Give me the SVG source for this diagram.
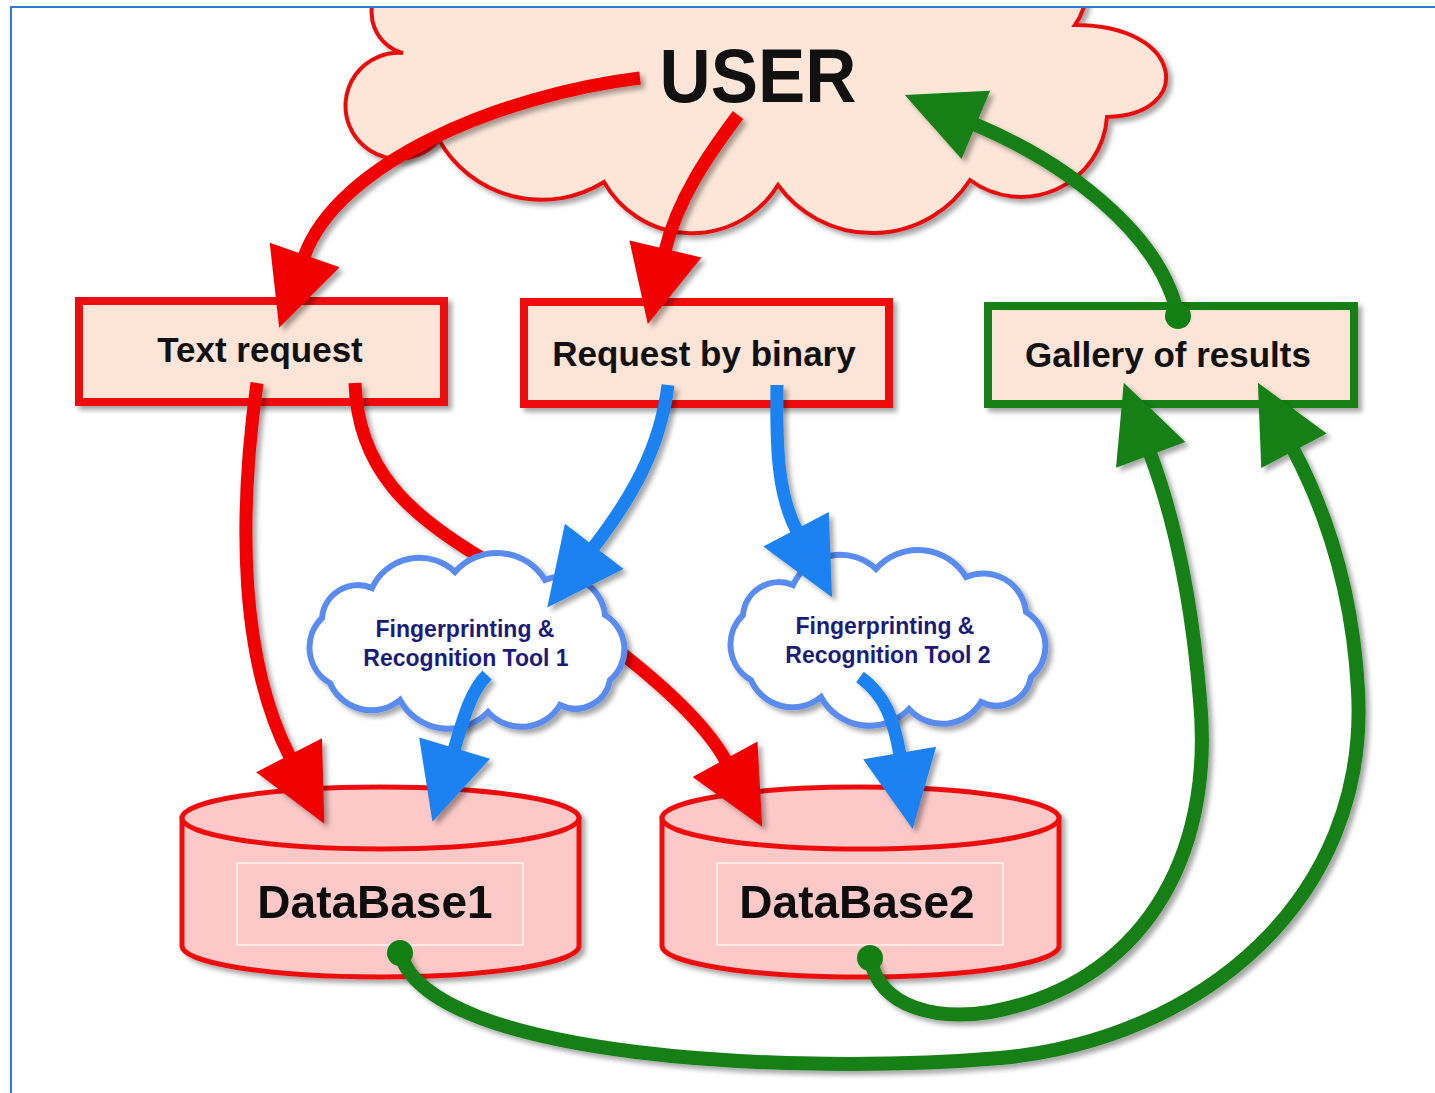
<svg xmlns="http://www.w3.org/2000/svg" width="1435" height="1093" viewBox="0 0 1435 1093">
<defs>
<filter id="sh" filterUnits="userSpaceOnUse" x="-50" y="-50" width="1535" height="1193">
<feDropShadow dx="4" dy="4" stdDeviation="2.5" flood-color="#000" flood-opacity="0.35"/>
</filter>
<marker id="mr" markerUnits="userSpaceOnUse" orient="auto" viewBox="-2 -50 100 100" refX="0" refY="0" markerWidth="100" markerHeight="100" overflow="visible"><path d="M-2,-37 L75,0 L-2,37 Z" fill="#f00000"/></marker>
<marker id="mb" markerUnits="userSpaceOnUse" orient="auto" viewBox="-2 -50 100 100" refX="0" refY="0" markerWidth="100" markerHeight="100" overflow="visible"><path d="M-2,-37 L75,0 L-2,37 Z" fill="#1a82f2"/></marker>
<marker id="mg" markerUnits="userSpaceOnUse" orient="auto" viewBox="-2 -50 100 100" refX="0" refY="0" markerWidth="100" markerHeight="100" overflow="visible"><path d="M-2,-37 L75,0 L-2,37 Z" fill="#128012"/></marker>
<path id="toolcloud" d="M322,618 A36,36 0 0 1 372,588 A52,52 0 0 1 455,572 A56,56 0 0 1 545,580 A43,43 0 0 1 605,615 A40,40 0 0 1 610,680 A35,35 0 0 1 560,705 A45,45 0 0 1 488,712 A55,55 0 0 1 400,700 A45,45 0 0 1 330,683 A41,41 0 0 1 322,618 Z"/>
</defs>
<style>
.box{stroke-width:8;fill:#fce4d6;filter:url(#sh)}
.lbl{font-family:"Liberation Sans",Arial,sans-serif;font-weight:bold;fill:#111;text-anchor:middle}
.tl{font-family:"Liberation Sans",Arial,sans-serif;font-weight:bold;fill:#1b1b78;text-anchor:middle;font-size:23px}
.db{fill:#fdc8c8;stroke:#ee1111;stroke-width:5}
.cr{fill:none;stroke:#f00000;stroke-width:13;marker-end:url(#mr);filter:url(#sh)}
.cb{fill:none;stroke:#1a82f2;stroke-width:13;marker-end:url(#mb);filter:url(#sh)}
.cg{fill:none;stroke:#128012;stroke-width:14;marker-end:url(#mg);filter:url(#sh)}
.dot{fill:#128012}
</style>
<rect width="1435" height="1093" fill="#fff"/>

<g id="user">
<path d="M378,-10 A42,42 0 0 0 403,53 A53,53 0 1 0 439,140 A118,118 0 0 0 604,182 A101,101 0 0 0 778,185 A116.5,116.5 0 0 0 970,180 A86,86 0 0 0 1107,117 C1195,115 1185,25 1075,25 A60,60 0 0 0 1086,-10 Z" fill="#fde6d8" stroke="#e81010" stroke-width="4" filter="url(#sh)"/>
<text class="lbl" x="758" y="102" font-size="76" textLength="197" lengthAdjust="spacingAndGlyphs">USER</text>
</g>

<g id="text-request">
<rect class="box" x="79" y="301" width="365" height="101" stroke="#ee1111"/>
<text class="lbl" x="260" y="362" font-size="35">Text request</text>
</g>

<g id="request-binary">
<rect class="box" x="524" y="302" width="365" height="102" stroke="#ee1111"/>
<text class="lbl" x="704" y="366" font-size="35">Request by binary</text>
</g>

<g id="gallery">
<rect class="box" x="988" y="306" width="366" height="98" stroke="#128012"/>
<text class="lbl" x="1168" y="367" font-size="35">Gallery of results</text>
</g>

<g id="database1" filter="url(#sh)">
<path class="db" d="M182,818 L182,946 A198.5,31 0 0 0 579,946 L579,818 Z"/>
<ellipse class="db" cx="380.5" cy="818" rx="198.5" ry="31"/>
<rect x="237" y="863" width="286" height="82" fill="none" stroke="#fff" stroke-width="1.2"/>
<text class="lbl" x="375" y="918" font-size="46">DataBase1</text>
</g>

<g id="database2" filter="url(#sh)">
<path class="db" d="M662,818 L662,946 A198.5,31 0 0 0 1059,946 L1059,818 Z"/>
<ellipse class="db" cx="860.5" cy="818" rx="198.5" ry="31"/>
<rect x="717" y="863" width="286" height="82" fill="none" stroke="#fff" stroke-width="1.2"/>
<text class="lbl" x="857" y="918" font-size="46">DataBase2</text>
</g>

<g id="connectors-under">
<path class="cr" d="M355,383 C358,470 410,515 480,557 C560,605 688,692 726,761"/>
</g>

<g id="tool1">
<use href="#toolcloud" fill="#fff" stroke="#5a8cf0" stroke-width="6" filter="url(#sh)"/>
<text class="tl" x="465" y="637">Fingerprinting &amp;</text>
<text class="tl" x="466" y="666">Recognition Tool 1</text>
</g>

<g id="tool2">
<use href="#toolcloud" transform="translate(421,-3)" fill="#fff" stroke="#5a8cf0" stroke-width="6" filter="url(#sh)"/>
<text class="tl" x="885" y="634">Fingerprinting &amp;</text>
<text class="tl" x="888" y="663">Recognition Tool 2</text>
</g>

<g id="connectors">
<path class="cr" d="M640,78 C500,95 337,163 304,257"/>
<path class="cr" d="M738,115 C708,155 677,200 665,251"/>
<path class="cg" d="M1178,316 C1160,230 1060,160 974,124"/>
<circle class="dot" cx="1178" cy="316" r="13"/>
<path class="cr" d="M257,383 C238,520 240,660 290,757"/>
<path class="cb" d="M668,385 C660,450 630,500 593,548"/>
<path class="cb" d="M777,385 C776,450 778,495 797,531"/>
<path class="cb" d="M487,675 C470,692 463,720 454,750"/>
<path class="cb" d="M860,677 C885,695 894,720 900,755"/>
<path class="cg" d="M400,953 C430,1060 800,1075 1000,1058 C1200,1040 1370,900 1358,690 C1352,580 1320,500 1293,449"/>
<circle class="dot" cx="400" cy="953" r="13"/>
<path class="cg" d="M870,958 C880,1010 940,1020 990,1012 C1140,985 1215,860 1200,700 C1192,600 1175,520 1150,453"/>
<circle class="dot" cx="870" cy="958" r="13"/>
</g>

<g id="frame">
<rect x="0" y="0" width="1435" height="6" fill="#fff"/>
<path d="M11,1093 L11,7 L1435,7" fill="none" stroke="#2a7bd4" stroke-width="2"/>
</g>
</svg>
